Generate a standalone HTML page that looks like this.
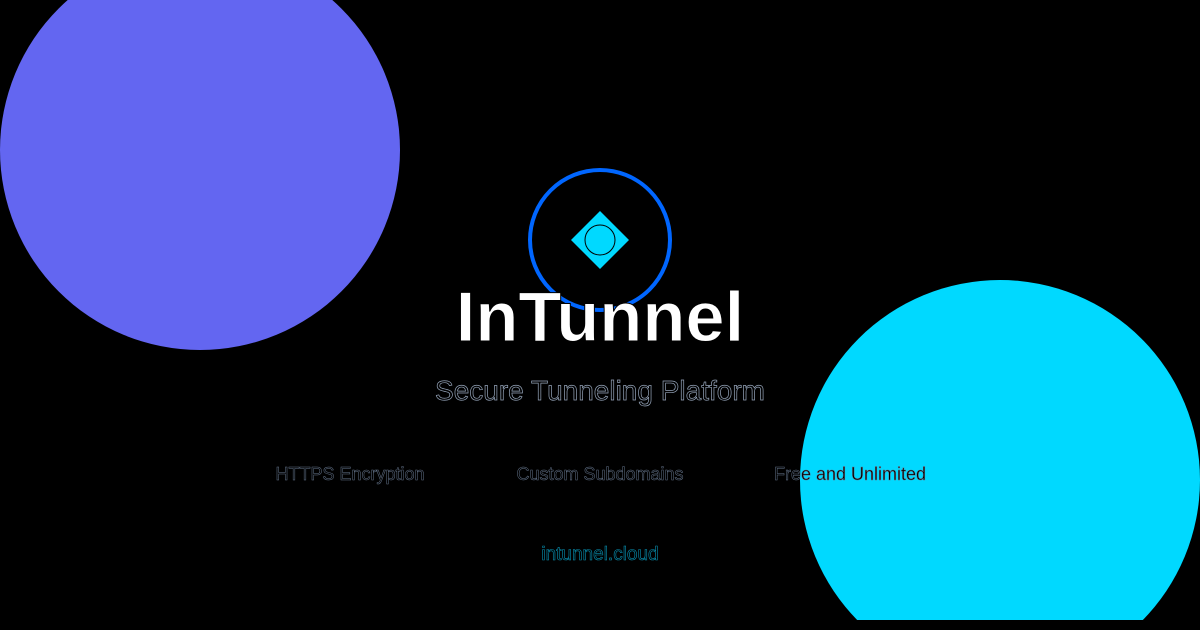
<!DOCTYPE html>
<html><head><meta charset="utf-8"><style>html,body{margin:0;padding:0;background:#000;width:1200px;height:630px;overflow:hidden}svg{display:block}</style></head>
<body>
<svg width="1200" height="630" viewBox="0 0 1200 630" xmlns="http://www.w3.org/2000/svg">
<rect width="1200" height="630" fill="#000"/>
<circle cx="200" cy="150" r="200" fill="#6366f1"/>
<clipPath id="c"><rect x="0" y="0" width="1200" height="620"/></clipPath>
<circle cx="1000" cy="480" r="200" fill="#00d9ff" clip-path="url(#c)"/>
<circle cx="600" cy="240" r="70" fill="none" stroke="#0066ff" stroke-width="4"/>
<polygon points="600,211 629,240 600,269 571,240" fill="#00d9ff"/>
<circle cx="600" cy="240" r="15" fill="#00d9ff" stroke="#000" stroke-width="1"/>
<text x="600" y="341" text-anchor="middle" font-family="Liberation Sans, sans-serif" font-weight="bold" font-size="70.5" fill="#fff" stroke="#000" stroke-width="1">InTunnel</text>
<text x="600" y="400" text-anchor="middle" font-family="Liberation Sans, sans-serif" font-size="28" fill="#000" stroke="#94a3b8" stroke-width="0.7">Secure Tunneling Platform</text>
<g font-family="Liberation Sans, sans-serif" font-size="18" text-anchor="middle" fill="#000" stroke="#64748b" stroke-width="0.5">
<text x="350" y="480">HTTPS Encryption</text>
<text x="600" y="480">Custom Subdomains</text>
<text x="850" y="480">Free and Unlimited</text>
</g>
<text x="600" y="560" text-anchor="middle" font-family="Liberation Sans, sans-serif" font-size="19" fill="#000" stroke="#0891b2" stroke-width="0.6">intunnel.cloud</text>
</svg>
</body></html>
